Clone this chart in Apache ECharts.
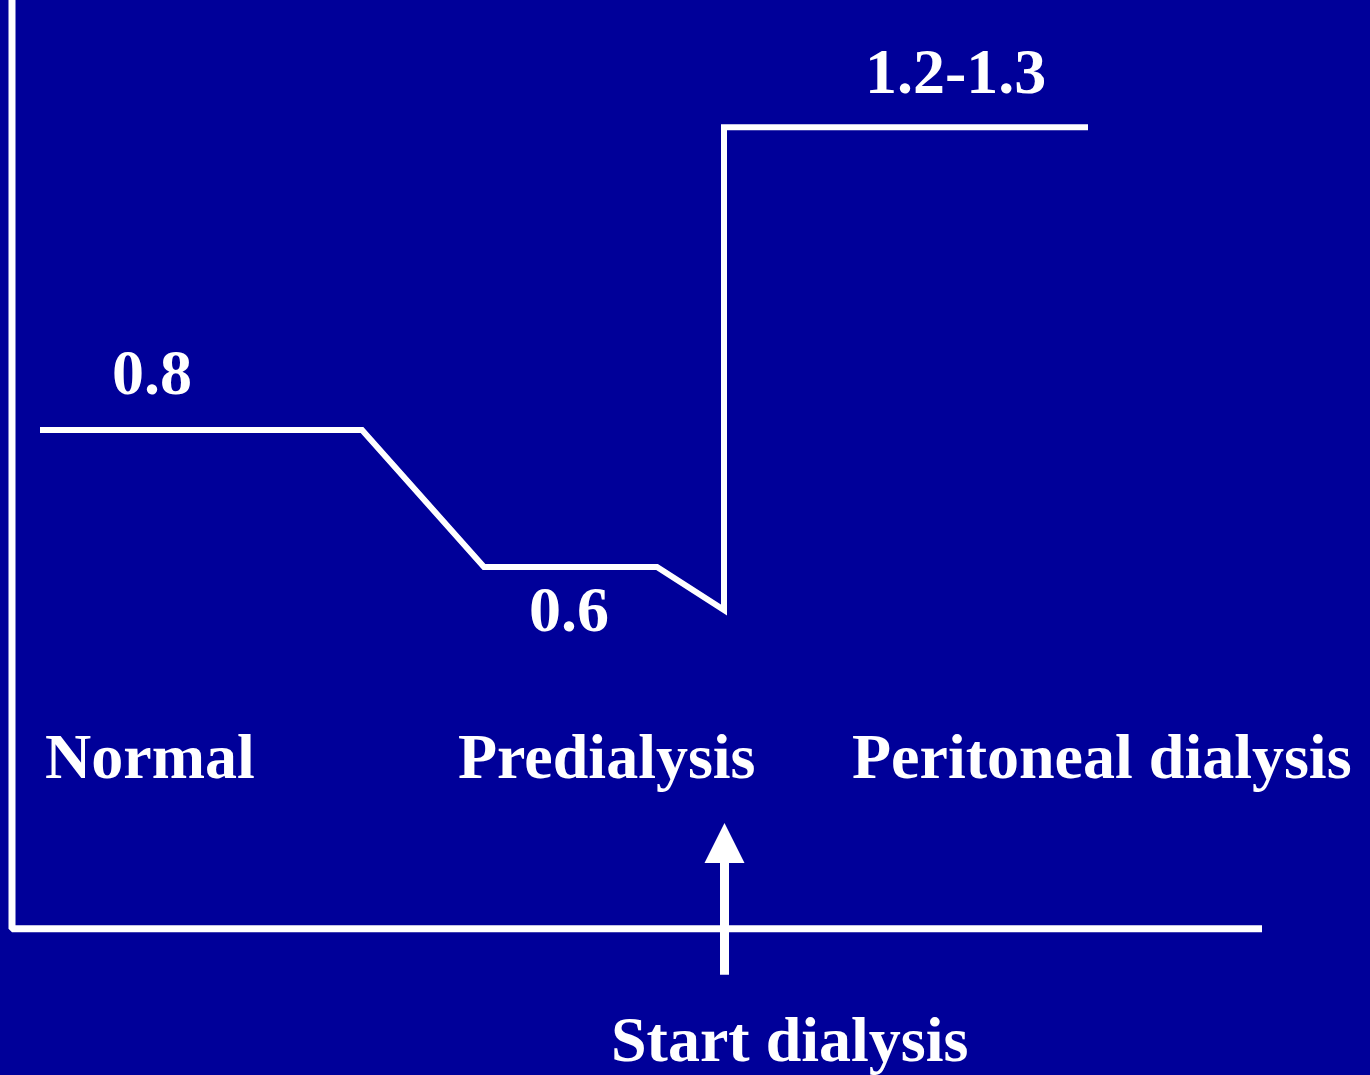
<!DOCTYPE html>
<html>
<head>
<meta charset="utf-8">
<title>Stages</title>
<script src="https://cdn.jsdelivr.net/npm/echarts@6/dist/echarts.min.js"></script>
<style>
  html, body { margin: 0; padding: 0; background: #000099; }
  #main { width: 1370px; height: 1075px; }
</style>
</head>
<body>
<div id="main"></div>
<script>
// 曲线的点 (横轴: 时间, 纵轴: 数值)
var stepX = [2.8, 35, 47.2, 64.5, 71.2, 71.2, 107.6];
var stepY = [0.8, 0.8, 0.6, 0.6, 0.537, 1.242, 1.242];

// 坐标轴线 (左边竖线 + 底部横线)
var axisX = [0, 0, 125];
var axisY = [1.428, 0.0715, 0.0715];

// 箭头 "Start dialysis"
var arrowX = [71.25, 71.25];
var arrowY = [0.0044, 0.197];

// 文字
var labelText = ['0.8', '0.6', '1.2-1.3', 'Normal', 'Predialysis', 'Peritoneal dialysis', 'Start dialysis'];
var labelX = [10.0, 51.7, 85.3, 3.3, 44.6, 84.0, 59.9];
var labelY = [0.876, 0.530, 1.317, 0.316, 0.316, 0.316, -0.098];

function zip(xs, ys) {
    var out = [];
    for (var i = 0; i < xs.length; i++) {
        out.push([xs[i], ys[i]]);
    }
    return out;
}

var myChart = echarts.init(document.getElementById('main'));

var labelData = [];
for (var i = 0; i < labelText.length; i++) {
    labelData.push({ value: [labelX[i], labelY[i]], name: labelText[i] });
}

var arrowData = zip(arrowX, arrowY);
arrowData[0] = { value: arrowData[0], symbol: 'none' };
arrowData[1] = { value: arrowData[1], symbol: 'triangle', symbolSize: [40, 40] };

var option = {
    backgroundColor: '#000099',
    animation: false,
    grid: { left: 0, right: 0, top: 0, bottom: 0 },
    xAxis: { type: 'value', min: -1.2, max: 135.8, show: false },
    yAxis: { type: 'value', min: -0.142, max: 1.428, show: false },
    series: [
        {
            name: 'axes',
            type: 'line',
            data: zip(axisX, axisY),
            showSymbol: false,
            lineStyle: { color: '#ffffff', width: 7 }
        },
        {
            name: 'level',
            type: 'line',
            data: zip(stepX, stepY),
            showSymbol: false,
            lineStyle: { color: '#ffffff', width: 6, join: 'miter' }
        },
        {
            name: 'arrow',
            type: 'line',
            data: arrowData,
            showSymbol: true,
            itemStyle: { color: '#ffffff', opacity: 1 },
            lineStyle: { color: '#ffffff', width: 9 }
        },
        {
            name: 'labels',
            type: 'scatter',
            data: labelData,
            symbolSize: 0,
            itemStyle: { opacity: 1 },
            label: {
                show: true,
                position: [0, 0],
                align: 'left',
                verticalAlign: 'middle',
                formatter: '{b}',
                color: '#ffffff',
                opacity: 1,
                fontFamily: 'Liberation Serif',
                fontWeight: 'bold',
                fontSize: 64
            }
        }
    ]
};

myChart.setOption(option);
</script>
</body>
</html>
